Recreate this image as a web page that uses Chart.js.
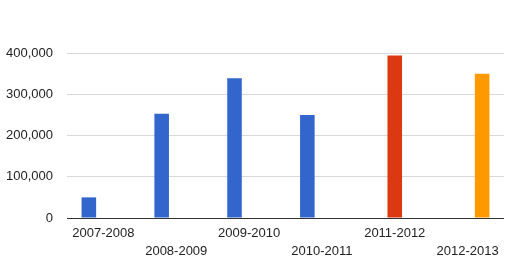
<!DOCTYPE html>
<html>
<head>
<meta charset="utf-8">
<script src="https://cdn.jsdelivr.net/npm/chart.js@4"></script>
<style>
  html, body { margin: 0; padding: 0; background: #fff; }
</style>
</head>
<body>
<canvas id="yearChart" width="505" height="264"></canvas>
<script>
// year ranges along the x axis
const categories = ['2007-2008', '2008-2009', '2009-2010', '2010-2011', '2011-2012', '2012-2013'];
// three series, each only filled in for its own years
const blueValues = [50000, 253000, 339000, 250000, null, null];
const redValues = [null, null, null, null, 394000, null];
const orangeValues = [null, null, null, null, null, 350000];
const yTicks = [0, 100000, 200000, 300000, 400000];

// alternate labels onto two rows like the original
const staggered = categories.map((c, i) => i % 2 === 0 ? [c, ''] : ['', c]);

const ctx = document.getElementById('yearChart');
new Chart(ctx, {
    type: 'bar',
    data: {
        labels: staggered,
        datasets: [
            { data: blueValues, backgroundColor: '#3366cc', categoryPercentage: 0.6, barPercentage: 1 },
            { data: redValues, backgroundColor: '#dc3912', categoryPercentage: 0.6, barPercentage: 1 },
            { data: orangeValues, backgroundColor: '#ff9900', categoryPercentage: 0.6, barPercentage: 1 }
        ]
    },
    options: {
        responsive: false,
        animation: false,
        layout: { padding: { top: 53, right: 1, left: 0, bottom: 0 } },
        plugins: {
            legend: { display: false },
            tooltip: { enabled: false }
        },
        scales: {
            x: {
                afterFit: (scale) => { scale.height = 46; },
                grid: { display: false, drawTicks: false },
                border: { display: false },
                ticks: {
                    color: '#222',
                    maxRotation: 0,
                    autoSkip: false,
                    padding: 6,
                    font: { family: 'Arial, "Liberation Sans"', size: 13, lineHeight: 1.4 }
                }
            },
            y: {
                min: 0,
                max: 400000,
                afterBuildTicks: (scale) => { scale.ticks = yTicks.map(v => ({ value: v })); },
                afterFit: (scale) => { scale.width = 67; },
                border: { display: false },
                grid: {
                    drawTicks: false,
                    color: (c) => c.tick && c.tick.value === 0 ? '#333' : '#d9d9d9'
                },
                ticks: {
                    color: '#222',
                    padding: 14,
                    font: { family: 'Arial, "Liberation Sans"', size: 13 },
                    callback: (v) => v.toLocaleString('en-US')
                }
            }
        }
    }
});
</script>
</body>
</html>
